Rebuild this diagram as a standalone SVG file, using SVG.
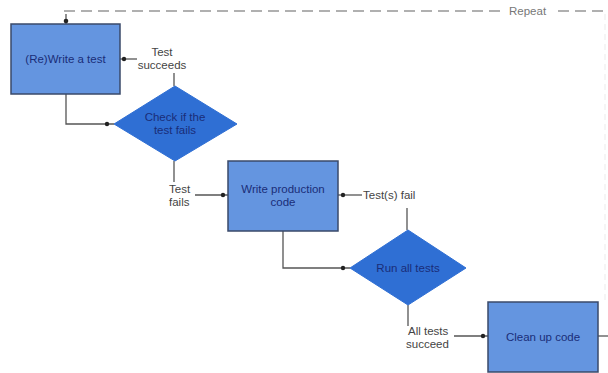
<svg xmlns="http://www.w3.org/2000/svg" width="608" height="373" viewBox="0 0 608 373">
<defs>
<style>
.box{fill:#6495e0;stroke:#3a4a6a;stroke-width:1.5}
.dia{fill:#2f6fd4;stroke:#2f6fd4;stroke-width:1}
.nt{font-family:"Liberation Sans",Arial,sans-serif;font-size:11.5px;fill:#1a2d78;text-anchor:middle}
.lbl{font-family:"Liberation Sans",Arial,sans-serif;font-size:11.5px;fill:#444}
.ln{fill:none;stroke:#555;stroke-width:1.3}
.rep{fill:none;stroke:#b0b0b0;stroke-width:2;stroke-dasharray:11,6}
.dot{fill:#222}
</style>
</defs>
<rect width="608" height="373" fill="#fff"/>
<g id="connectors">
<path class="rep" d="M64 11 H506"/>
<path class="rep" d="M558 11 H606"/>
<text class="lbl" x="509" y="15" style="fill:#777">Repeat</text>
<path d="M605 14 V300" fill="none" stroke="#eee" stroke-width="1.2" stroke-dasharray="6,4"/>
<path class="ln" d="M66 14 V24"/>
<circle class="dot" cx="66" cy="21" r="2.3"/>
<path class="ln" d="M66 94 V124 H114"/>
<circle class="dot" cx="107" cy="124" r="2.2"/>
<path class="ln" d="M174 86 V73"/>
<path class="ln" d="M137 59 H120"/>
<circle class="dot" cx="124" cy="59" r="2.2"/>
<path class="ln" d="M174 161 V182"/>
<path class="ln" d="M195 195 H228"/>
<circle class="dot" cx="223" cy="195" r="2.2"/>
<path class="ln" d="M407 230 V208"/>
<path class="ln" d="M362 195 H338"/>
<circle class="dot" cx="343" cy="195" r="2.2"/>
<path class="ln" d="M283 231 V268 H350"/>
<circle class="dot" cx="343" cy="268" r="2.2"/>
<path class="ln" d="M408 305 V326"/>
<path class="ln" d="M454 336 H488"/>
<circle class="dot" cx="483" cy="336" r="2.2"/>
<path class="ln" d="M598 336 H608"/>
<text class="lbl" x="162" y="56" text-anchor="middle">Test</text>
<text class="lbl" x="162" y="69" text-anchor="middle">succeeds</text>
<text class="lbl" x="169" y="193">Test</text>
<text class="lbl" x="169" y="206">fails</text>
<text class="lbl" x="363" y="199">Test(s) fail</text>
<text class="lbl" x="408" y="335">All tests</text>
<text class="lbl" x="406" y="348">succeed</text>
</g>
<g id="write-test">
<rect class="box" x="11" y="24" width="109" height="70"/>
<text class="nt" x="65.5" y="63">(Re)Write a test</text>
</g>
<g id="check-fails">
<polygon class="dia" points="114,124 175,86 237,124 175,161"/>
<text class="nt" x="175" y="121">Check if the</text>
<text class="nt" x="175" y="134">test fails</text>
</g>
<g id="write-code">
<rect class="box" x="228" y="161" width="110" height="70"/>
<text class="nt" x="283" y="193">Write production</text>
<text class="nt" x="283" y="206">code</text>
</g>
<g id="run-tests">
<polygon class="dia" points="350,268 408,230 466,268 408,305"/>
<text class="nt" x="408" y="272">Run all tests</text>
</g>
<g id="clean-up">
<rect class="box" x="488" y="302" width="110" height="70"/>
<text class="nt" x="543" y="341">Clean up code</text>
</g>
</svg>
